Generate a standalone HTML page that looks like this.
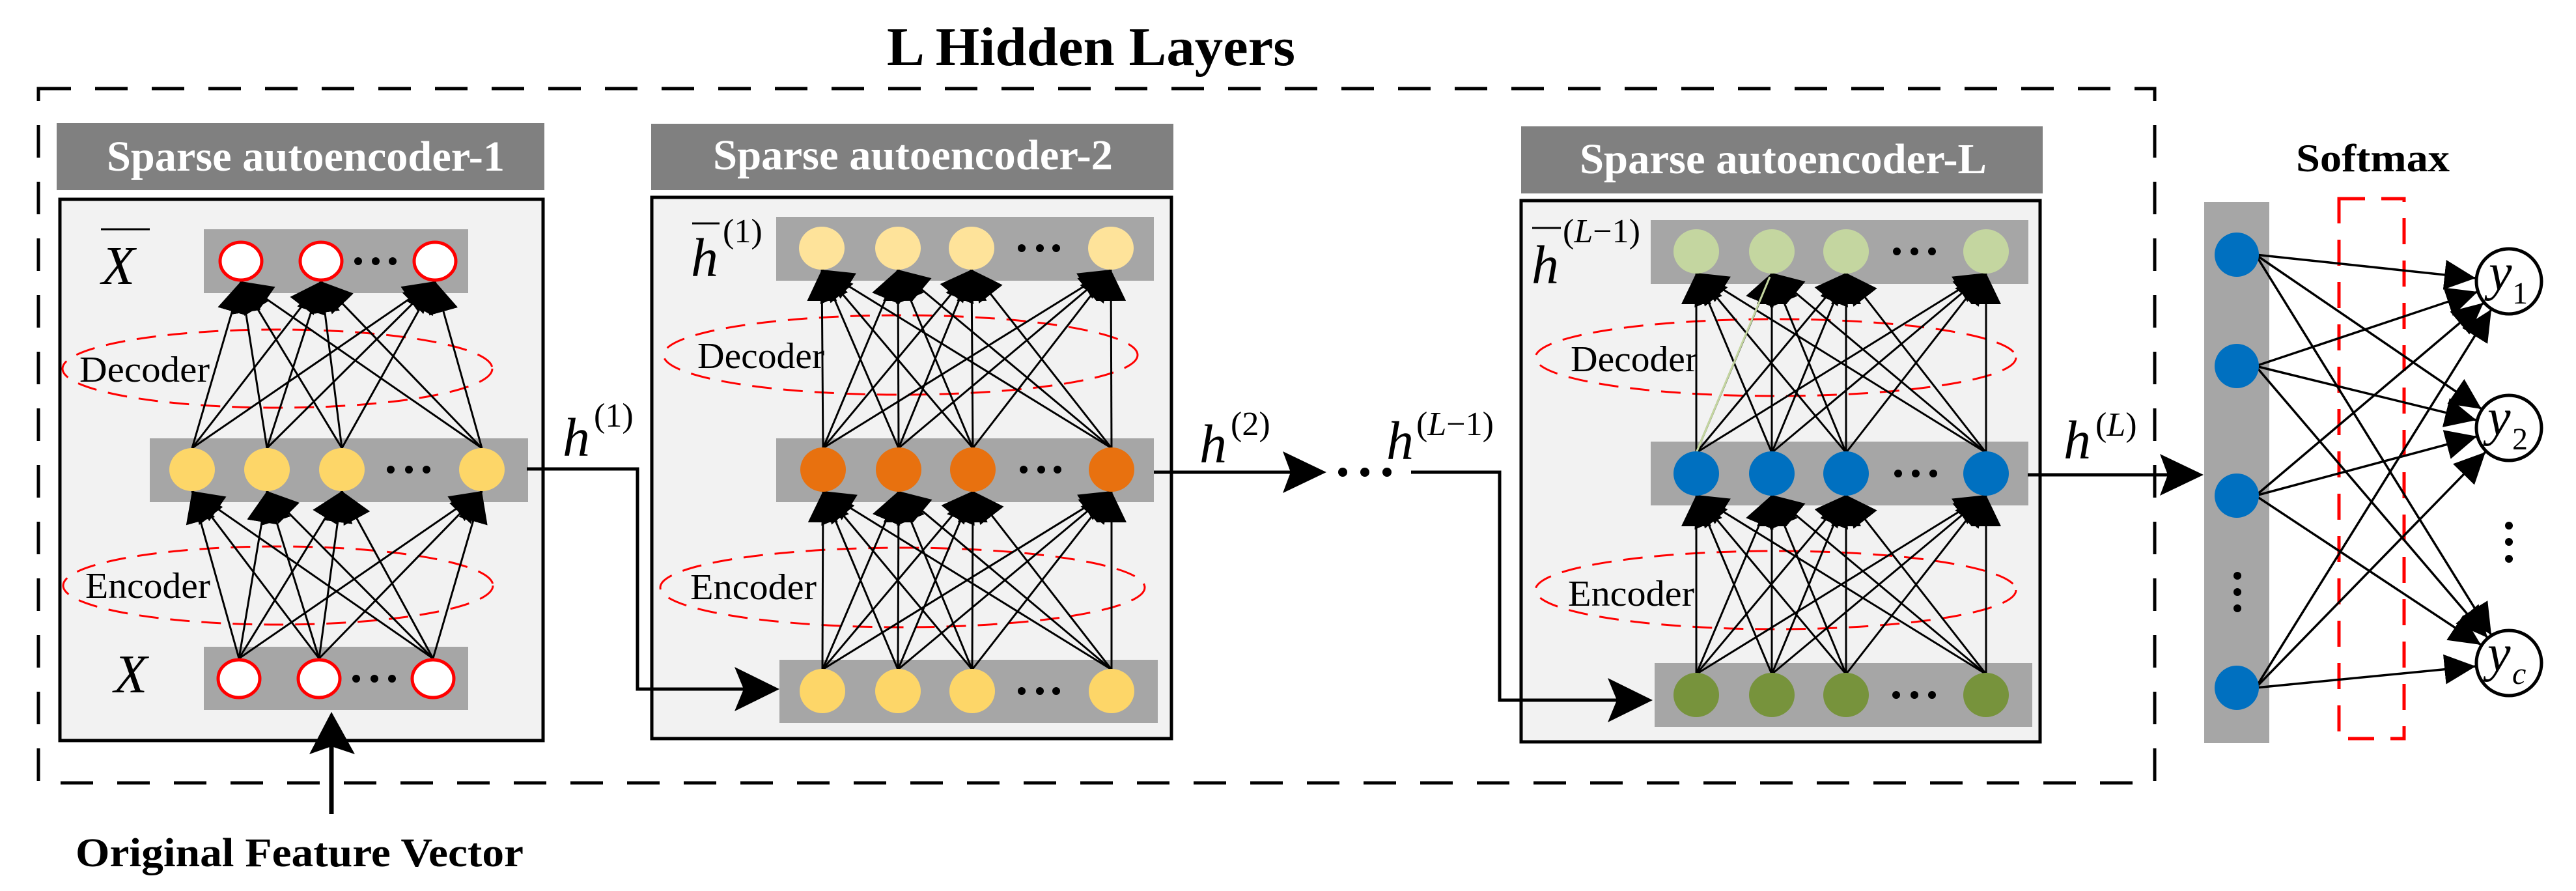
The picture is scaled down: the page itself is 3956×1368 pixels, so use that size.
<!DOCTYPE html>
<html><head><meta charset="utf-8"><style>
html,body{margin:0;padding:0;background:#fff}
svg{display:block}
.t{font-family:"Liberation Serif",serif}
</style></head><body>
<svg width="3956" height="1368" viewBox="0 0 3956 1368" xmlns="http://www.w3.org/2000/svg">
<defs>
<marker id="a" markerUnits="userSpaceOnUse" markerWidth="48" markerHeight="46" refX="48" refY="23" orient="auto"><path d="M0,0 L48,23 L0,46 z" fill="#000"/></marker>
</defs>
<rect x="59" y="136" width="3250" height="1066" fill="none" stroke="#000" stroke-width="5" stroke-dasharray="50 37"/>
<text class="t" x="1362" y="100" font-size="84" font-weight="bold" textLength="627" lengthAdjust="spacingAndGlyphs">L Hidden Layers</text>

<!-- SA1 -->
<rect x="87" y="189" width="749" height="103" fill="#808080"/>
<text class="t" x="164" y="262" font-size="66" font-weight="bold" fill="#fff" textLength="611" lengthAdjust="spacingAndGlyphs">Sparse autoencoder-1</text>
<rect x="92" y="306" width="742" height="831" fill="#f2f2f2" stroke="#000" stroke-width="5"/>
<rect x="313" y="352" width="406" height="98" fill="#a6a6a6"/>
<rect x="230" y="673" width="581" height="98" fill="#a6a6a6"/>
<rect x="313" y="993" width="406" height="97" fill="#a6a6a6"/>
<ellipse cx="426" cy="566" rx="330" ry="60" fill="none" stroke="#f00" stroke-width="3" stroke-dasharray="30 18"/>
<ellipse cx="427" cy="899" rx="330" ry="60" fill="none" stroke="#f00" stroke-width="3" stroke-dasharray="30 18"/>
<text class="t" x="122" y="586" font-size="56" textLength="200" lengthAdjust="spacingAndGlyphs">Decoder</text>
<text class="t" x="131" y="918" font-size="56" textLength="192" lengthAdjust="spacingAndGlyphs">Encoder</text>
<g stroke="#000" stroke-width="3" marker-end="url(#a)">
<line x1="295" y1="688" x2="370" y2="432"/><line x1="295" y1="688" x2="493" y2="432"/><line x1="295" y1="688" x2="668" y2="432"/>
<line x1="410" y1="688" x2="370" y2="432"/><line x1="410" y1="688" x2="493" y2="432"/><line x1="410" y1="688" x2="668" y2="432"/>
<line x1="525" y1="688" x2="370" y2="432"/><line x1="525" y1="688" x2="493" y2="432"/><line x1="525" y1="688" x2="668" y2="432"/>
<line x1="740" y1="688" x2="370" y2="432"/><line x1="740" y1="688" x2="493" y2="432"/><line x1="740" y1="688" x2="668" y2="432"/>
<line x1="367" y1="1011" x2="295" y2="754"/><line x1="367" y1="1011" x2="410" y2="754"/><line x1="367" y1="1011" x2="525" y2="754"/><line x1="367" y1="1011" x2="740" y2="754"/>
<line x1="490" y1="1011" x2="295" y2="754"/><line x1="490" y1="1011" x2="410" y2="754"/><line x1="490" y1="1011" x2="525" y2="754"/><line x1="490" y1="1011" x2="740" y2="754"/>
<line x1="665" y1="1011" x2="295" y2="754"/><line x1="665" y1="1011" x2="410" y2="754"/><line x1="665" y1="1011" x2="525" y2="754"/><line x1="665" y1="1011" x2="740" y2="754"/>
</g>
<g fill="#fff" stroke="#f00" stroke-width="5">
<ellipse cx="370" cy="401" rx="32" ry="29"/><ellipse cx="493" cy="401" rx="32" ry="29"/><ellipse cx="668" cy="401" rx="32" ry="29"/>
<ellipse cx="367" cy="1042" rx="32" ry="29"/><ellipse cx="490" cy="1042" rx="32" ry="29"/><ellipse cx="665" cy="1042" rx="32" ry="29"/>
</g>
<g fill="#fdd668"><ellipse cx="295" cy="721" rx="35" ry="33"/><ellipse cx="410" cy="721" rx="35" ry="33"/><ellipse cx="525" cy="721" rx="35" ry="33"/><ellipse cx="740" cy="721" rx="35" ry="33"/></g>
<g fill="#000">
<circle cx="550" cy="401" r="6"/><circle cx="577" cy="401" r="6"/><circle cx="603" cy="401" r="6"/>
<circle cx="600" cy="721" r="6"/><circle cx="628" cy="721" r="6"/><circle cx="655" cy="721" r="6"/>
<circle cx="547" cy="1042" r="6"/><circle cx="575" cy="1042" r="6"/><circle cx="602" cy="1042" r="6"/>
</g>
<line x1="155" y1="352" x2="230" y2="352" stroke="#000" stroke-width="3"/>
<text class="t" x="156" y="436" font-size="84" font-style="italic">X</text>
<text class="t" x="175" y="1063" font-size="84" font-style="italic">X</text>
<line x1="509" y1="1250" x2="509" y2="1140" stroke="#000" stroke-width="7"/>
<polygon points="509,1093 545,1158 509,1146 475,1158" fill="#000"/>
<text class="t" x="116" y="1330" font-size="62" font-weight="bold" textLength="688" lengthAdjust="spacingAndGlyphs">Original Feature Vector</text>

<text class="t" x="864" y="700" font-size="84" font-style="italic">h</text>
<text class="t" x="912" y="655" font-size="52">(1)</text>

<!-- SA2 -->
<rect x="1000" y="190" width="802" height="102" fill="#808080"/>
<text class="t" x="1095" y="260" font-size="66" font-weight="bold" fill="#fff" textLength="614" lengthAdjust="spacingAndGlyphs">Sparse autoencoder-2</text>
<rect x="1001" y="303" width="798" height="831" fill="#f2f2f2" stroke="#000" stroke-width="5"/>
<rect x="1192" y="333" width="580" height="98" fill="#a6a6a6"/>
<rect x="1192" y="673" width="580" height="98" fill="#a6a6a6"/>
<rect x="1197" y="1013" width="581" height="97" fill="#a6a6a6"/>
<ellipse cx="1383" cy="545" rx="364" ry="61" fill="none" stroke="#f00" stroke-width="3" stroke-dasharray="30 18"/>
<ellipse cx="1386" cy="902" rx="372" ry="61" fill="none" stroke="#f00" stroke-width="3" stroke-dasharray="30 18"/>
<text class="t" x="1071" y="565" font-size="56" textLength="195" lengthAdjust="spacingAndGlyphs">Decoder</text>
<text class="t" x="1060" y="920" font-size="56" textLength="194" lengthAdjust="spacingAndGlyphs">Encoder</text>
<g stroke="#000" stroke-width="3" marker-end="url(#a)">
<line x1="1264" y1="688" x2="1262" y2="414"/><line x1="1264" y1="688" x2="1379" y2="414"/><line x1="1264" y1="688" x2="1492" y2="414"/><line x1="1264" y1="688" x2="1706" y2="414"/>
<line x1="1380" y1="688" x2="1262" y2="414"/><line x1="1380" y1="688" x2="1379" y2="414"/><line x1="1380" y1="688" x2="1492" y2="414"/><line x1="1380" y1="688" x2="1706" y2="414"/>
<line x1="1494" y1="688" x2="1262" y2="414"/><line x1="1494" y1="688" x2="1379" y2="414"/><line x1="1494" y1="688" x2="1492" y2="414"/><line x1="1494" y1="688" x2="1706" y2="414"/>
<line x1="1707" y1="688" x2="1262" y2="414"/><line x1="1707" y1="688" x2="1379" y2="414"/><line x1="1707" y1="688" x2="1492" y2="414"/><line x1="1707" y1="688" x2="1706" y2="414"/>
<line x1="1263" y1="1028" x2="1264" y2="754"/><line x1="1263" y1="1028" x2="1380" y2="754"/><line x1="1263" y1="1028" x2="1494" y2="754"/><line x1="1263" y1="1028" x2="1707" y2="754"/>
<line x1="1379" y1="1028" x2="1264" y2="754"/><line x1="1379" y1="1028" x2="1380" y2="754"/><line x1="1379" y1="1028" x2="1494" y2="754"/><line x1="1379" y1="1028" x2="1707" y2="754"/>
<line x1="1493" y1="1028" x2="1264" y2="754"/><line x1="1493" y1="1028" x2="1380" y2="754"/><line x1="1493" y1="1028" x2="1494" y2="754"/><line x1="1493" y1="1028" x2="1707" y2="754"/>
<line x1="1707" y1="1028" x2="1264" y2="754"/><line x1="1707" y1="1028" x2="1380" y2="754"/><line x1="1707" y1="1028" x2="1494" y2="754"/><line x1="1707" y1="1028" x2="1707" y2="754"/>
</g>
<g fill="#fee39a"><ellipse cx="1262" cy="381" rx="35" ry="33"/><ellipse cx="1379" cy="381" rx="35" ry="33"/><ellipse cx="1492" cy="381" rx="35" ry="33"/><ellipse cx="1706" cy="381" rx="35" ry="33"/></g>
<g fill="#e8710f"><ellipse cx="1264" cy="721" rx="35" ry="34"/><ellipse cx="1380" cy="721" rx="35" ry="34"/><ellipse cx="1494" cy="721" rx="35" ry="34"/><ellipse cx="1707" cy="721" rx="35" ry="34"/></g>
<g fill="#fdd668"><ellipse cx="1263" cy="1061" rx="35" ry="34"/><ellipse cx="1379" cy="1061" rx="35" ry="34"/><ellipse cx="1493" cy="1061" rx="35" ry="34"/><ellipse cx="1707" cy="1061" rx="35" ry="34"/></g>
<g fill="#000">
<circle cx="1569" cy="381" r="6"/><circle cx="1597" cy="381" r="6"/><circle cx="1622" cy="381" r="6"/>
<circle cx="1572" cy="721" r="6"/><circle cx="1599" cy="721" r="6"/><circle cx="1624" cy="721" r="6"/>
<circle cx="1569" cy="1061" r="6"/><circle cx="1597" cy="1061" r="6"/><circle cx="1622" cy="1061" r="6"/>
</g>
<line x1="1063" y1="343" x2="1105" y2="343" stroke="#000" stroke-width="3"/>
<text class="t" x="1061" y="424" font-size="84" font-style="italic">h</text>
<text class="t" x="1110" y="372" font-size="52">(1)</text>

<text class="t" x="1842" y="710" font-size="84" font-style="italic">h</text>
<text class="t" x="1890" y="668" font-size="52">(2)</text>
<line x1="1772" y1="725" x2="1990" y2="725" stroke="#000" stroke-width="5"/>
<polygon points="2037,725 1970,693 1982,725 1970,757" fill="#000"/>
<g fill="#000"><circle cx="2062" cy="725" r="7"/><circle cx="2096" cy="725" r="7"/><circle cx="2130" cy="725" r="7"/></g>
<text class="t" x="2129" y="705" font-size="84" font-style="italic">h</text>
<text class="t" x="2175" y="668" font-size="52">(<tspan font-style="italic">L</tspan>−1)</text>

<!-- SA-L -->
<rect x="2336" y="194" width="801" height="103" fill="#808080"/>
<text class="t" x="2426" y="266" font-size="66" font-weight="bold" fill="#fff" textLength="625" lengthAdjust="spacingAndGlyphs">Sparse autoencoder-L</text>
<rect x="2336" y="308" width="797" height="831" fill="#f2f2f2" stroke="#000" stroke-width="5"/>
<rect x="2535" y="338" width="580" height="98" fill="#a6a6a6"/>
<rect x="2535" y="678" width="580" height="98" fill="#a6a6a6"/>
<rect x="2541" y="1018" width="580" height="98" fill="#a6a6a6"/>
<ellipse cx="2727" cy="549" rx="369" ry="59" fill="none" stroke="#f00" stroke-width="3" stroke-dasharray="30 18"/>
<ellipse cx="2727" cy="906" rx="369" ry="60" fill="none" stroke="#f00" stroke-width="3" stroke-dasharray="30 18"/>
<text class="t" x="2412" y="570" font-size="56" textLength="195" lengthAdjust="spacingAndGlyphs">Decoder</text>
<text class="t" x="2408" y="930" font-size="56" textLength="194" lengthAdjust="spacingAndGlyphs">Encoder</text>
<g stroke="#000" stroke-width="3" marker-end="url(#a)">
<line x1="2605" y1="695" x2="2605" y2="419"/><line x1="2605" y1="695" x2="2721" y2="419"/><line x1="2605" y1="695" x2="2835" y2="419"/><line x1="2605" y1="695" x2="3050" y2="419"/>
<line x1="2721" y1="695" x2="2605" y2="419"/><line x1="2721" y1="695" x2="2721" y2="419"/><line x1="2721" y1="695" x2="2835" y2="419"/><line x1="2721" y1="695" x2="3050" y2="419"/>
<line x1="2835" y1="695" x2="2605" y2="419"/><line x1="2835" y1="695" x2="2721" y2="419"/><line x1="2835" y1="695" x2="2835" y2="419"/><line x1="2835" y1="695" x2="3050" y2="419"/>
<line x1="3050" y1="695" x2="2605" y2="419"/><line x1="3050" y1="695" x2="2721" y2="419"/><line x1="3050" y1="695" x2="2835" y2="419"/><line x1="3050" y1="695" x2="3050" y2="419"/>
<line x1="2605" y1="1035" x2="2605" y2="760"/><line x1="2605" y1="1035" x2="2721" y2="760"/><line x1="2605" y1="1035" x2="2835" y2="760"/><line x1="2605" y1="1035" x2="3050" y2="760"/>
<line x1="2721" y1="1035" x2="2605" y2="760"/><line x1="2721" y1="1035" x2="2721" y2="760"/><line x1="2721" y1="1035" x2="2835" y2="760"/><line x1="2721" y1="1035" x2="3050" y2="760"/>
<line x1="2835" y1="1035" x2="2605" y2="760"/><line x1="2835" y1="1035" x2="2721" y2="760"/><line x1="2835" y1="1035" x2="2835" y2="760"/><line x1="2835" y1="1035" x2="3050" y2="760"/>
<line x1="3050" y1="1035" x2="2605" y2="760"/><line x1="3050" y1="1035" x2="2721" y2="760"/><line x1="3050" y1="1035" x2="2835" y2="760"/><line x1="3050" y1="1035" x2="3050" y2="760"/>
</g>
<line x1="2605" y1="695" x2="2718" y2="425" stroke="#c4d6a0" stroke-width="3"/>
<g fill="#c4d6a0"><ellipse cx="2605" cy="386" rx="35" ry="34"/><ellipse cx="2721" cy="386" rx="35" ry="34"/><ellipse cx="2835" cy="386" rx="35" ry="34"/><ellipse cx="3050" cy="386" rx="35" ry="34"/></g>
<g fill="#0070c0"><ellipse cx="2605" cy="727" rx="35" ry="34"/><ellipse cx="2721" cy="727" rx="35" ry="34"/><ellipse cx="2835" cy="727" rx="35" ry="34"/><ellipse cx="3050" cy="727" rx="35" ry="34"/></g>
<g fill="#77933c"><ellipse cx="2605" cy="1067" rx="35" ry="34"/><ellipse cx="2721" cy="1067" rx="35" ry="34"/><ellipse cx="2835" cy="1067" rx="35" ry="34"/><ellipse cx="3050" cy="1067" rx="35" ry="34"/></g>
<g fill="#000">
<circle cx="2913" cy="386" r="6"/><circle cx="2940" cy="386" r="6"/><circle cx="2967" cy="386" r="6"/>
<circle cx="2915" cy="727" r="6"/><circle cx="2942" cy="727" r="6"/><circle cx="2969" cy="727" r="6"/>
<circle cx="2912" cy="1067" r="6"/><circle cx="2940" cy="1067" r="6"/><circle cx="2967" cy="1067" r="6"/>
</g>
<line x1="2353" y1="350" x2="2397" y2="350" stroke="#000" stroke-width="3"/>
<text class="t" x="2352" y="435" font-size="84" font-style="italic">h</text>
<text class="t" x="2400" y="372" font-size="52">(<tspan font-style="italic">L</tspan>−1)</text>

<text class="t" x="3169" y="704" font-size="84" font-style="italic">h</text>
<text class="t" x="3218" y="669" font-size="52">(<tspan font-style="italic">L</tspan>)</text>
<line x1="3114" y1="729" x2="3340" y2="729" stroke="#000" stroke-width="5"/>
<polygon points="3384,729 3317,697 3329,729 3317,761" fill="#000"/>

<!-- Softmax -->
<text class="t" x="3526" y="263" font-size="60" font-weight="bold" textLength="236" lengthAdjust="spacingAndGlyphs">Softmax</text>
<rect x="3385" y="310" width="100" height="831" fill="#a6a6a6"/>
<rect x="3592" y="305" width="100" height="829" fill="none" stroke="#f00" stroke-width="5" stroke-dasharray="40 25"/>
<g stroke="#000" stroke-width="3.5" marker-end="url(#a)">
<line x1="3464" y1="391" x2="3802" y2="427"/><line x1="3464" y1="391" x2="3811" y2="628"/><line x1="3464" y1="391" x2="3826" y2="975"/>
<line x1="3464" y1="562" x2="3805" y2="448"/><line x1="3464" y1="562" x2="3803" y2="645"/><line x1="3464" y1="562" x2="3820" y2="979"/>
<line x1="3464" y1="761" x2="3814" y2="465"/><line x1="3464" y1="761" x2="3804" y2="670"/><line x1="3464" y1="761" x2="3810" y2="990"/>
<line x1="3464" y1="1056" x2="3826" y2="475"/><line x1="3464" y1="1056" x2="3817" y2="694"/><line x1="3464" y1="1056" x2="3802" y2="1023"/>
</g>
<g fill="#0070c0"><ellipse cx="3435" cy="391" rx="34" ry="34"/><ellipse cx="3435" cy="562" rx="34" ry="34"/><ellipse cx="3435" cy="761" rx="34" ry="34"/><ellipse cx="3435" cy="1056" rx="34" ry="34"/></g>
<g fill="#000"><circle cx="3436" cy="884" r="6"/><circle cx="3436" cy="909" r="6"/><circle cx="3436" cy="934" r="6"/>
<circle cx="3853" cy="807" r="6"/><circle cx="3853" cy="832" r="6"/><circle cx="3853" cy="858" r="6"/></g>
<g fill="#fff" stroke="#000" stroke-width="5">
<circle cx="3853" cy="432" r="50"/><circle cx="3853" cy="657" r="50"/><circle cx="3853" cy="1018" r="50"/>
</g>
<text class="t" x="3822" y="445" font-size="80" font-style="italic">y</text><text class="t" x="3858" y="466" font-size="48">1</text>
<text class="t" x="3820" y="668" font-size="80" font-style="italic">y</text><text class="t" x="3858" y="690" font-size="48">2</text>
<text class="t" x="3820" y="1030" font-size="80" font-style="italic">y</text><text class="t" x="3858" y="1050" font-size="48" font-style="italic">c</text>

<!-- connectors drawn last so arrowheads sit above boxes -->
<path d="M809,720 H979 V1058 H1150" fill="none" stroke="#000" stroke-width="5"/>
<polygon points="1197,1058 1128,1024 1142,1058 1128,1092" fill="#000"/>
<path d="M2167,725 H2303 V1075 H2490" fill="none" stroke="#000" stroke-width="5"/>
<polygon points="2538,1075 2469,1041 2483,1075 2469,1109" fill="#000"/>
</svg>
</body></html>
